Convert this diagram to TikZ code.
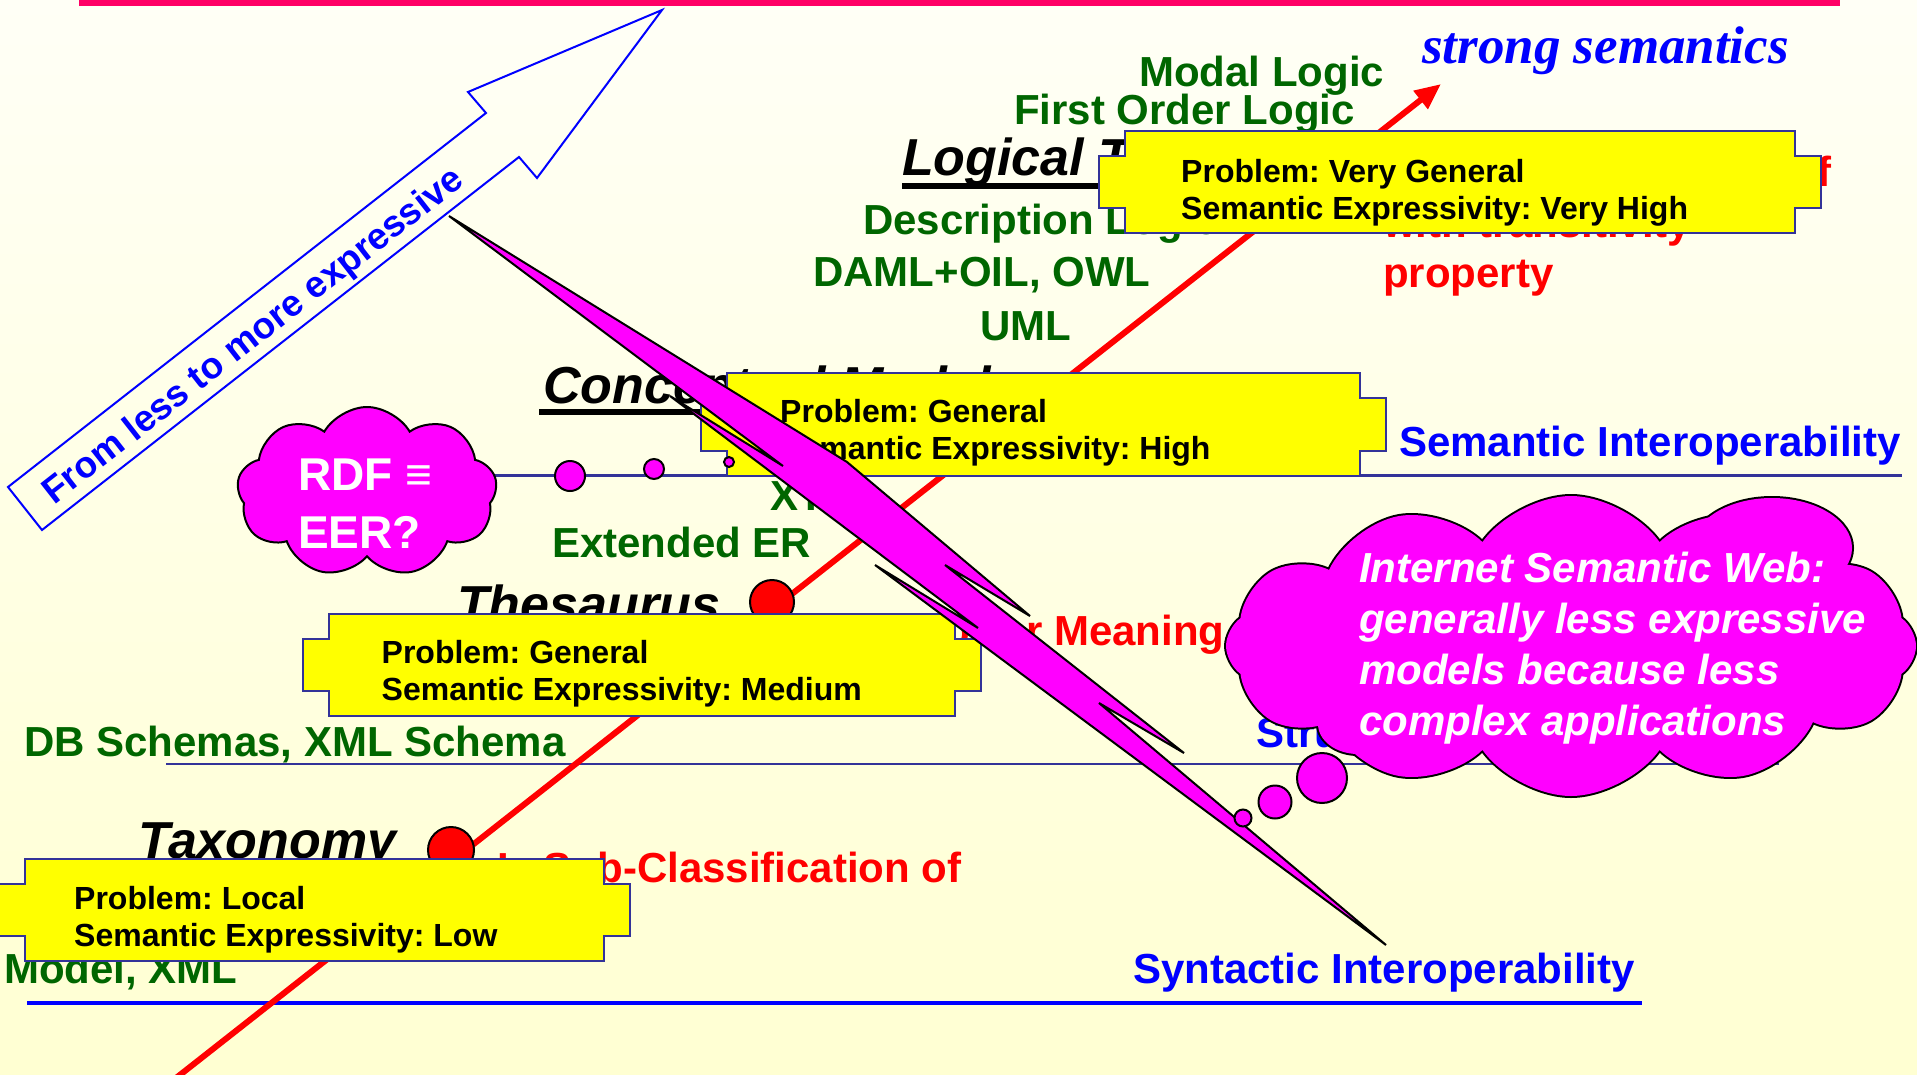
\documentclass[tikz,border=0pt]{standalone}
\usepackage{fontspec}
\setmainfont{Liberation Sans}
\newfontfamily\timesfont{Liberation Serif}
\usetikzlibrary{shapes.symbols,shapes.geometric,arrows.meta}
\definecolor{dgreen}{HTML}{006600}
\definecolor{pinkbar}{HTML}{FF0066}
\definecolor{boxline}{HTML}{333399}
\definecolor{ylw}{HTML}{FFFF00}
\definecolor{mag}{HTML}{FF00FF}
\definecolor{bgtop}{HTML}{FFFFF6}
\definecolor{bgbot}{HTML}{FFFFD2}
\definecolor{pureblue}{HTML}{0000FF}
\definecolor{purered}{HTML}{FF0000}
\newcommand\yplaque[4]{%
  \draw[ybox] (#1,#2) -- (#3,#2) -- (#3,#2+25) -- (#3+26,#2+25) -- (#3+26,#4-25) -- (#3,#4-25) -- (#3,#4) -- (#1,#4) -- (#1,#4-25) -- (#1-26,#4-25) -- (#1-26,#2+25) -- (#1,#2+25) -- cycle;}
\begin{document}
\frenchspacing
\begin{tikzpicture}[x=1pt,y=-1pt,
  gtxt/.style={anchor=base west,inner sep=0,text=dgreen,font=\fontsize{42}{50}\selectfont\bfseries},
  rtxt/.style={anchor=base west,inner sep=0,text=purered,font=\fontsize{42}{50}\selectfont\bfseries},
  btxt/.style={anchor=base west,inner sep=0,text=pureblue,font=\fontsize{42}{50}\selectfont\bfseries},
  ktxt/.style={anchor=base west,inner sep=0,text=black,font=\fontsize{52}{60}\selectfont\bfseries\itshape},
  wtxt/.style={anchor=base west,inner sep=0,text=white,font=\fontsize{42}{50}\selectfont\bfseries\itshape},
  rdftxt/.style={anchor=base west,inner sep=0,text=white,font=\fontsize{46}{54}\selectfont\bfseries},
  boxtxt/.style={anchor=base west,inner sep=0,text=black,font=\fontsize{32}{38}\selectfont\bfseries},
  ybox/.style={fill=ylw,draw=boxline,line width=2},
  reddot/.style={circle,fill=purered,draw=black,line width=2,inner sep=0},
  bubble/.style={circle,fill=mag,draw=black,line width=2,inner sep=0},
  cloudy/.style={cloud,fill=mag,draw=black,line width=2,inner sep=0},
  bigcloud/.style={cloud,cloud puffs=12,cloud puff arc=110,aspect=2.3,minimum width=690,minimum height=300,inner sep=0},
  uline/.style={line width=6,black}
]
\useasboundingbox (0,0) rectangle (1917,1074);
\shade[top color=bgtop,bottom color=bgbot] (0,0) rectangle (1917,1074);
\fill[pinkbar] (79,0) rectangle (1840,6);

% horizontal interoperability lines
\coordinate (semL) at (480,475); \coordinate (semR) at (1902,475);
\draw[boxline,line width=3] (semL) -- (semR);
\coordinate (dbL) at (166,764); \coordinate (dbR) at (1779,764);
\draw[boxline,line width=2] (dbL) -- (dbR);
\coordinate (synL) at (27,1003); \coordinate (synR) at (1642,1003);
\draw[pureblue,line width=4] (synL) -- (synR);

% green texts
\node[gtxt] (modal) at (1139,86) {Modal Logic};
\node[gtxt] (fol) at (1014,124.5) {First Order Logic};
\node[gtxt] (dl) at (863,234) {Description Logic};
\node[gtxt] (daml) at (813,286) {DAML+OIL, OWL};
\node[gtxt] (uml) at (980,340) {UML};
\node[gtxt] (xtm) at (770,510) {XTM};
\node[gtxt] (eer) at (552,557) {Extended ER};
\node[gtxt] (dbs) at (24,756) {DB Schemas, XML Schema};
\node[gtxt] (relm) at (4,983) {Model, XML};

% black level names
\node[ktxt] (logical) at (902,175) {Logical Theory};
\draw[uline] ([yshift=-11pt]logical.base west) -- ([yshift=-11pt]logical.base east);
\node[ktxt] (concept) at (543,403) {Conceptual Model};
\draw[uline] ([yshift=-9pt,xshift=-4pt]concept.base west) -- ([yshift=-9pt]concept.base east);
\node[ktxt] (thes) at (457,622) {Thesaurus};
\node[ktxt] (taxo) at (138,858) {Taxonomy};

% red relation texts
\node[rtxt] (rel1) at (1383,186) {Is Disjoint Subclass of};
\node[rtxt] (rel2) at (1383,237) {with transitivity};
\node[rtxt] (rel3) at (1383,287) {property};
\node[rtxt] (narrow) at (858,645) {Narrower Meaning};
\node[rtxt] (subcl) at (497,882.5) {Is Sub-Classification of};

% blue texts
\node[anchor=base west,inner sep=0,text=pureblue,font=\fontsize{53}{60}\selectfont\timesfont\bfseries\itshape] (strong) at (1422,63) {strong semantics};
\node[btxt] (semint) at (1399,456) {Semantic Interoperability};
\node[btxt] (strint) at (1256,747) {Structural Interoperability};
\node[btxt] (synint) at (1133,983) {Syntactic Interoperability};

% red axis
\coordinate (ax0) at (176,1078);
\coordinate (ax1) at (1441,84);
\draw[purered,line width=6,-{Triangle[length=26pt,width=22pt]}] (ax0) -- (ax1);
\node[reddot,minimum size=44] (thesdot) at (772,602) {};
\node[reddot,minimum size=46] (taxdot) at (451,850) {};

% hollow blue arrow
\draw[pureblue,line width=2,line join=miter] (42,530) -- (8,487) -- (486,113) -- (468,92) -- (662,10) -- (537,178) -- (519,157) -- cycle;
\node[rotate=38,inner sep=0,text=pureblue,font=\fontsize{37}{44}\selectfont\bfseries] (fromless) at (254,337) {From less to more expressive};

% yellow boxes
\yplaque{1125}{131}{1795}{233}
\node[boxtxt] (bA1) at (1181,182) {Problem: Very General};
\node[boxtxt] (bA2) at (1181,219) {Semantic Expressivity: Very High};
\yplaque{727}{373}{1360}{476}
\node[boxtxt] (bB1) at (780,422.5) {Problem: General};
\node[boxtxt] (bB2) at (780,459.5) {Semantic Expressivity: High};
\yplaque{329}{614}{955}{716}
\node[boxtxt] (bC1) at (381.5,663) {Problem: General};
\node[boxtxt] (bC2) at (381.5,700.5) {Semantic Expressivity: Medium};
\yplaque{25}{859}{604}{961}
\node[boxtxt] (bD1) at (74,909) {Problem: Local};
\node[boxtxt] (bD2) at (74,946.5) {Semantic Expressivity: Low};

% RDF cloud and its bubbles
\node[cloudy,cloud puffs=9,cloud puff arc=120,aspect=1.5,minimum width=260,minimum height=170] (rdfcloud) at (367,492) {};
\node[rdftxt] (rdf1) at (298,490) {RDF ≡};
\node[rdftxt] (rdf2) at (298,548) {EER?};
\node[bubble,minimum size=30] (rb1) at (570,476) {};
\node[bubble,minimum size=20] (rb2) at (654,469) {};
\node[bubble,minimum size=10] (rb3) at (729,462) {};

% lightning bolt
\draw[fill=mag,draw=black,line width=2]
  (449,216) -- (847,462) -- (1030,616) -- (945,565) -- (1184,753) -- (1099,703) -- (1386,945)
  -- (875,565) -- (978,628) -- (670,396) -- (783,466) -- cycle;

% big cloud: outline pass, then fill pass (union of cloud and two extra lobes)
\node[bigcloud,fill=mag,draw=black,line width=4] (webcloud) at (1571,646) {};
\draw[black,line width=4,fill=mag] (1358,724) ellipse [x radius=40,y radius=30];
\draw[black,line width=4,fill=mag] (1772,548) ellipse [x radius=80,y radius=50];
\fill[mag] (1358,724) ellipse [x radius=40,y radius=30];
\fill[mag] (1772,548) ellipse [x radius=80,y radius=50];
\node[bigcloud,fill=mag,draw=none] (webcloudfill) at (1571,646) {};
\node[wtxt] (w1) at (1359,582) {Internet Semantic Web:};
\node[wtxt] (w2) at (1359,633) {generally less expressive};
\node[wtxt] (w3) at (1359,684) {models because less};
\node[wtxt] (w4) at (1359,735) {complex applications};
\node[bubble,minimum size=17] (cb1) at (1243,818) {};
\node[bubble,minimum size=33] (cb2) at (1275,802) {};
\node[bubble,minimum size=50] (cb3) at (1322,778) {};
\end{tikzpicture}
\end{document}
